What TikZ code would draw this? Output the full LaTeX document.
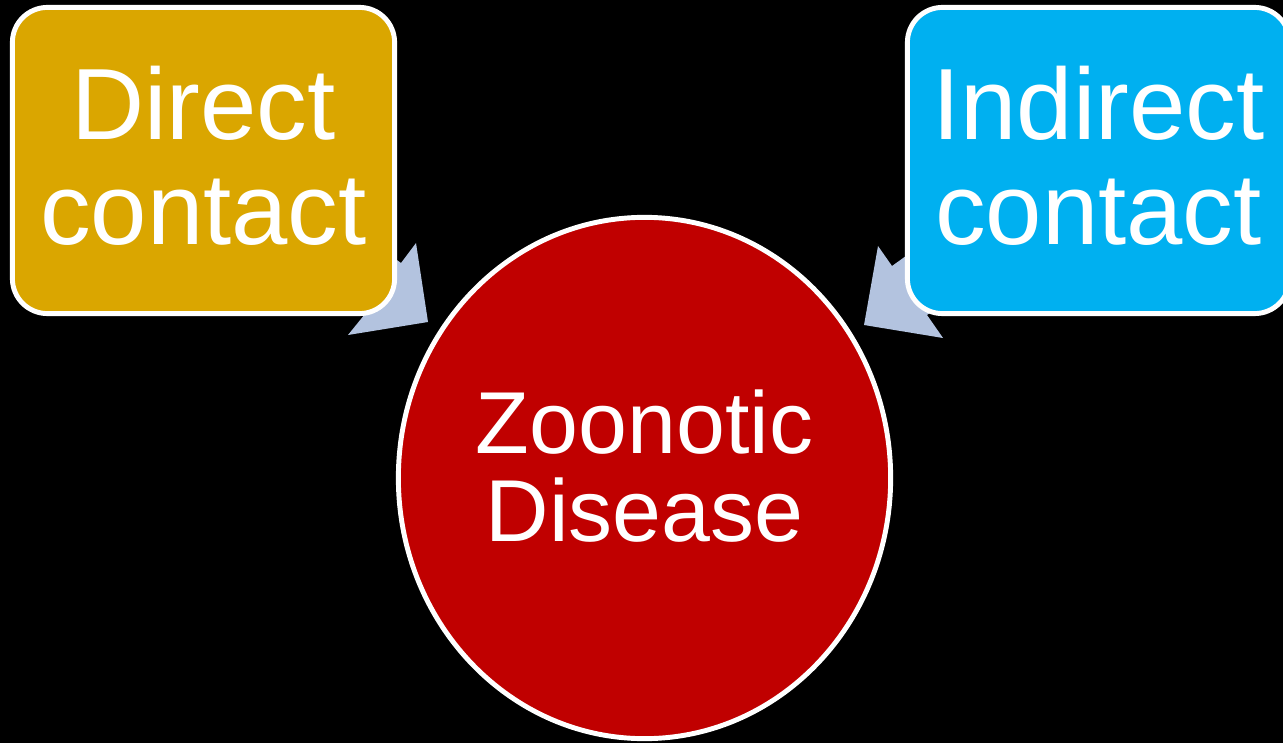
\documentclass[tikz,border=0pt]{standalone}
\usepackage{fontspec}
\setmainfont{Liberation Sans}
\usetikzlibrary{shapes.geometric}

\definecolor{gold}{HTML}{DAA600}
\definecolor{sky}{HTML}{00B0F0}
\definecolor{blood}{HTML}{C00000}
\definecolor{steel}{HTML}{B3C3DF}

\begin{document}
\begin{tikzpicture}[x=0.01cm, y=-0.01cm, line join=round,
  contactbox/.style={draw=white, line width=1.4pt, rounded corners=0.35cm,
    minimum width=3.82cm, minimum height=3.06cm, inner sep=0pt},
  contacttext/.style={align=center, text=white, inner sep=0pt,
    font=\fontsize{28.8}{29.9}\selectfont},
  disease/.style={ellipse, draw=white, line width=1.4pt, fill=blood,
    minimum width=4.92cm, minimum height=5.21cm, inner sep=0pt},
  diseasetext/.style={align=center, text=white, inner sep=0pt,
    font=\fontsize{25}{25}\selectfont},
  blockarrow/.style={fill=steel}]

  % background
  \fill[black] (0,0) rectangle (1283,743);
  \useasboundingbox (0,0) rectangle (1283,743);

  % arrow coordinates
  \coordinate (LA1) at (416,243);
  \coordinate (LTip) at (428,322);
  \coordinate (LA2) at (348,335);
  \coordinate (LS1) at (365,314);
  \coordinate (LS2) at (315,278);
  \coordinate (LS3) at (351,227);
  \coordinate (LS4) at (401,263);

  \coordinate (RA1) at (878,246);
  \coordinate (RTip) at (864,325);
  \coordinate (RA2) at (943,338);
  \coordinate (RS1) at (927,315);
  \coordinate (RS2) at (977,279);
  \coordinate (RS3) at (942,230);
  \coordinate (RS4) at (892,266);

  % arrows
  \fill[blockarrow] (LA1) -- (LTip) -- (LA2) -- (LS1) -- (LS2) -- (LS3) -- (LS4) -- cycle;
  \fill[blockarrow] (RA1) -- (RTip) -- (RA2) -- (RS1) -- (RS2) -- (RS3) -- (RS4) -- cycle;

  % boxes
  \node[contactbox, fill=gold] (direct) at (203.5,160.5) {};
  \node[contactbox, fill=sky] (indirect) at (1098.5,160.5) {};
  \node[contacttext] (directtext) at ([yshift=0.05cm]direct.center) {Direct\\contact};
  \node[contacttext] (indirecttext) at ([yshift=0.05cm]indirect.center) {Indirect\\contact};

  % circle
  \node[disease] (zoonotic) at (644.5,478) {};
  \node[diseasetext] (zoonotictext) at ([yshift=0.12cm]zoonotic.center) {Zoonotic\\Disease};
\end{tikzpicture}
\end{document}
